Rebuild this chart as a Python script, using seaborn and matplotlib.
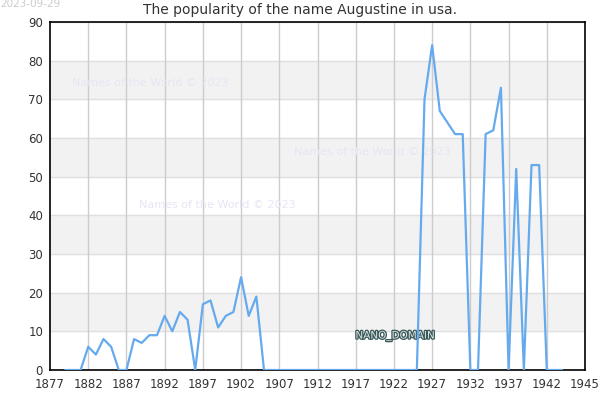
import numpy as np
import pandas as pd
import matplotlib
matplotlib.use('Agg')
import matplotlib.pyplot as plt
import matplotlib.patheffects as pe
import seaborn as sns

years = list(range(1879, 1945))
counts = [0, 0, 0, 6, 4, 8, 6, 0, 0, 8, 7, 9, 9, 14, 10, 15, 13, 0, 17, 18,
          11, 14, 15, 24, 14, 19, 0, 0, 0, 0, 0, 0, 0, 0, 0, 0, 0, 0, 0, 0,
          0, 0, 0, 0, 0, 0, 0, 70, 84, 67, 64, 61, 61, 0, 0, 61, 62, 73, 0, 52,
          0, 53, 53, 0, 0, 0]

x_ticks = [1877, 1882, 1887, 1892, 1897, 1902, 1907, 1912, 1917, 1922, 1927, 1932, 1937, 1942, 1947]
x_labels = ['1877', '1882', '1887', '1892', '1897', '1902', '1907', '1912', '1917', '1922', '1927',
            '1932', '1937', '1942', '1945']
y_ticks = list(range(0, 100, 10))

df = pd.DataFrame({'year': years, 'count': counts})

sns.set_style('white')
plt.rcParams['font.family'] = ['DejaVu Sans']

fig = plt.figure(figsize=(6, 4), dpi=100)
ax = fig.add_axes([50 / 600, 30 / 400, 535 / 600, 348 / 400])

# alternating bands
for lo in range(10, 90, 20):
    ax.axhspan(lo, lo + 10, color='#f2f2f2', zorder=0)
for y in y_ticks:
    ax.axhline(y, color='#e0e0e0', lw=1, zorder=0.5)
for x in x_ticks[1:-1]:
    ax.axvline(x, color='#cccccc', lw=1, zorder=0.6)

sns.lineplot(data=df, x='year', y='count', color='#66aaee', lw=1.6, ax=ax, zorder=3)

ax.set_xlim(1877, 1947)
ax.set_ylim(0, 90)
ax.set_xticks(x_ticks)
ax.set_xticklabels(x_labels)
ax.set_yticks(y_ticks)
ax.tick_params(length=0, labelsize=8.5, labelcolor='#333333')
ax.tick_params(axis='x', pad=6)
ax.tick_params(axis='y', pad=5)
ax.set_xlabel('')
ax.set_ylabel('')
for s in ax.spines.values():
    s.set_color('black')
    s.set_linewidth(1.2)

fig.text(0.5, 0.975, 'The popularity of the name Augustine in usa.', ha='center', va='center',
         fontsize=10, color='#333333')
fig.text(0.0, 0.99, '2023-09-29', ha='left', va='center', fontsize=7.5, color='#cccccc')

wm = [(72, 83), (294, 152), (139, 205)]
for px, py in wm:
    ax.text(px / 600, 1 - py / 400, 'Names of the World © 2023', ha='left', va='center',
            fontsize=8, color='#e6e6f5', zorder=1, transform=fig.transFigure)

t = ax.text(395 / 600, 1 - 336 / 400, 'NANO_DOMAIN', ha='center', va='center', fontsize=7.5,
            color='#d8e6e6', zorder=2, transform=fig.transFigure)
t.set_path_effects([pe.withStroke(linewidth=1.8, foreground='#3a5656')])

fig.savefig('out.png', dpi=100)
